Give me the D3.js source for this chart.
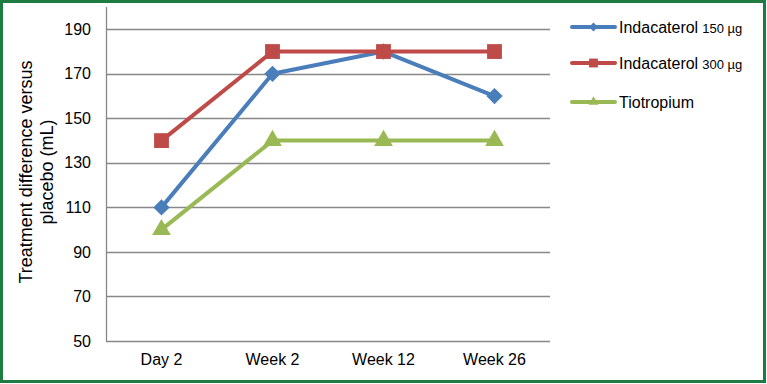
<!DOCTYPE html>
<html>
<head>
<meta charset="utf-8">
<script src="https://cdn.jsdelivr.net/npm/d3@7"></script>
<style>
  body { margin: 0; background: #fff; }
  text { font-family: "Liberation Sans", Arial, sans-serif; fill: #000; }
</style>
</head>
<body>
<div id="chart"></div>
<script>
// Data
const categories = ["Day 2", "Week 2", "Week 12", "Week 26"];
const indacaterol150 = [110, 170, 180, 160];
const indacaterol300 = [140, 180, 180, 180];
const tiotropium = [100, 140, 140, 140];
const yTicks = [50, 70, 90, 110, 130, 150, 170, 190];

const series = [
  { name: "Indacaterol", dose: "150 \u00b5g", values: indacaterol150, color: "#4a7ebb", marker: d3.symbolDiamond2, size: 170, legendSize: 50 },
  { name: "Indacaterol", dose: "300 \u00b5g", values: indacaterol300, color: "#be4b48", marker: d3.symbolSquare2, size: 280, legendSize: 100 },
  { name: "Tiotropium", dose: "", values: tiotropium, color: "#98b954", marker: d3.symbolTriangle2, size: 250, legendSize: 70 }
];

const width = 767, height = 384;
const margin = { top: 7, right: 217, bottom: 43, left: 106 };

let svg = d3.select("#chart").append("svg")
  .attr("width", width)
  .attr("height", height);

// Green frame
svg.append("rect")
  .attr("x", 1.5).attr("y", 1.5)
  .attr("width", width - 4).attr("height", height - 4)
  .attr("fill", "#fff")
  .attr("stroke", "#1e7b41")
  .attr("stroke-width", 3);

let x = d3.scaleBand()
  .domain(categories)
  .range([margin.left, width - margin.right]);

let y = d3.scaleLinear()
  .domain([50, 200])
  .range([height - margin.bottom, margin.top]);

// Gridlines
svg.append("g")
  .selectAll("line")
  .data(yTicks)
  .join("line")
  .attr("x1", margin.left)
  .attr("x2", width - margin.right)
  .attr("y1", d => Math.round(y(d)) + 0.5)
  .attr("y2", d => Math.round(y(d)) + 0.5)
  .attr("stroke", "#888")
  .attr("stroke-width", 1.3);

// Y axis line
svg.append("line")
  .attr("x1", margin.left + 0.5).attr("x2", margin.left + 0.5)
  .attr("y1", margin.top).attr("y2", height - margin.bottom)
  .attr("stroke", "#888")
  .attr("stroke-width", 1.3);

// Y tick labels
svg.append("g")
  .selectAll("text")
  .data(yTicks)
  .join("text")
  .attr("x", margin.left - 15)
  .attr("y", d => y(d))
  .attr("dy", "0.35em")
  .attr("text-anchor", "end")
  .style("font-size", "16px")
  .text(d => d);

// X tick labels
svg.append("g")
  .selectAll("text")
  .data(categories)
  .join("text")
  .attr("x", d => x(d) + x.bandwidth() / 2)
  .attr("y", height - margin.bottom + 24)
  .attr("text-anchor", "middle")
  .style("font-size", "16px")
  .text(d => d);

// Y axis title
let title = svg.append("text")
  .attr("transform", "translate(32,172) rotate(-90)")
  .attr("text-anchor", "middle")
  .style("font-size", "18px");
title.append("tspan").attr("x", 0).attr("dy", 0).text("Treatment difference versus");
title.append("tspan").attr("x", 0).attr("dy", "1.15em").text("placebo (mL)");

// Lines and markers
let line = d3.line()
  .x((d, i) => x(categories[i]) + x.bandwidth() / 2)
  .y(d => y(d));

for (let s of series) {
  svg.append("path")
    .datum(s.values)
    .attr("fill", "none")
    .attr("stroke", s.color)
    .attr("stroke-width", 4)
    .attr("stroke-linejoin", "round")
    .attr("d", line);

  svg.append("g")
    .selectAll("path")
    .data(s.values)
    .join("path")
    .attr("transform", (d, i) => "translate(" + (x(categories[i]) + x.bandwidth() / 2) + "," + y(d) + ")")
    .attr("d", d3.symbol().type(s.marker).size(s.size))
    .attr("fill", s.color);
}

// Legend
let legend = svg.append("g");
let legendY = [27, 63, 102];
series.forEach((s, i) => {
  let g = legend.append("g").attr("transform", "translate(572," + legendY[i] + ")");
  g.append("line")
    .attr("x1", 0).attr("x2", 43)
    .attr("stroke", s.color)
    .attr("stroke-width", 4)
    .attr("stroke-linecap", "round");
  g.append("path")
    .attr("transform", "translate(21.5,0)")
    .attr("d", d3.symbol().type(s.marker).size(s.legendSize))
    .attr("fill", s.color);
  let t = g.append("text")
    .attr("x", 47)
    .attr("dy", "0.35em")
    .style("font-size", "16px");
  t.append("tspan").text(s.name);
  if (s.dose) {
    t.append("tspan").attr("dx", 4).style("font-size", "13px").text(s.dose);
  }
});
</script>
</body>
</html>
